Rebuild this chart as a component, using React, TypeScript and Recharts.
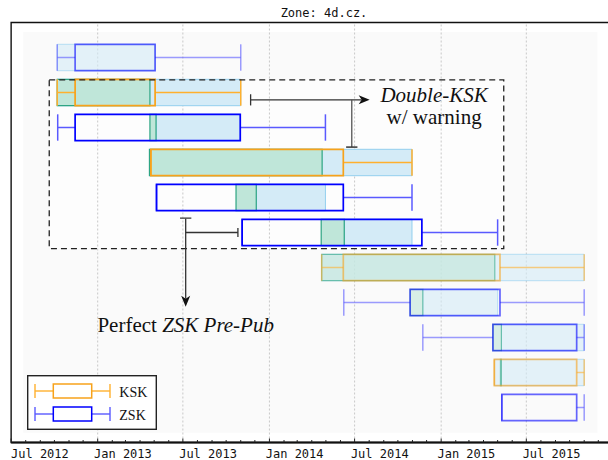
import React from 'react';
import {
  ComposedChart,
  XAxis,
  YAxis,
  Scatter,
  ReferenceArea,
  ReferenceLine,
  ReferenceDot,
  Legend,
} from 'recharts';

// one row per box, top to bottom
const ROW_KEYS = ['ZSK', 'KSK', 'ZSK', 'KSK', 'ZSK', 'ZSK', 'KSK', 'ZSK', 'ZSK', 'KSK', 'ZSK'];
const WHISKER_LOW = ['2012-10-07', '2012-10-07', '2012-10-08', '2013-04-24', '2013-05-06', '2013-11-04', '2014-04-22', '2014-06-08', '2014-11-23', '2015-04-24', '2015-05-10'];
const Q1 = ['2012-11-14', '2012-11-14', '2012-11-14', '2013-04-24', '2013-05-06', '2013-11-04', '2014-06-07', '2014-10-27', '2015-04-21', '2015-04-24', '2015-05-10'];
const Q3 = ['2013-05-03', '2013-05-03', '2013-10-31', '2014-06-07', '2014-06-07', '2014-11-21', '2015-05-06', '2015-05-06', '2015-10-16', '2015-10-16', '2015-10-16'];
const WHISKER_HIGH = ['2013-11-01', '2013-11-01', '2014-04-30', '2014-10-31', '2014-10-31', '2015-05-01', '2015-11-01', '2015-11-01', '2015-11-01', '2015-11-01', '2015-11-01'];
const BLUE_SPANS: ([string, string] | null)[] = [
  ['2012-10-07', '2013-05-03'],
  ['2012-10-07', '2013-11-01'],
  ['2013-05-05', '2013-10-31'],
  ['2013-04-21', '2014-10-31'],
  ['2013-12-04', '2014-04-30'],
  ['2014-06-09', '2014-10-31'],
  ['2014-04-22', '2015-11-01'],
  ['2014-11-23', '2015-05-01'],
  ['2015-05-09', '2015-11-01'],
  ['2015-04-24', '2015-11-01'],
  null,
];
const GREEN_SPANS: ([string, string] | null)[] = [
  null,
  ['2012-10-07', '2013-04-22'],
  ['2013-04-22', '2013-05-05'],
  ['2013-04-21', '2014-04-23'],
  ['2013-10-22', '2013-12-04'],
  ['2014-04-21', '2014-06-09'],
  ['2014-04-22', '2015-04-25'],
  ['2014-10-27', '2014-11-23'],
  ['2015-04-21', '2015-05-09'],
  ['2015-05-07', '2015-05-09'],
  null,
];

const MAJOR_TICKS = ['2012-07-01', '2013-01-01', '2013-07-01', '2014-01-01', '2014-07-01', '2015-01-01', '2015-07-01'];
const TICK_LABELS = ['Jul 2012', 'Jan 2013', 'Jul 2013', 'Jan 2014', 'Jul 2014', 'Jan 2015', 'Jul 2015'];

// highlighted region (dashed box) and the two notes
const FOCUS_X = ['2012-09-20', '2015-05-14'];
const FOCUS_Y = [1.64, 6.46];
const PANEL_X = ['2012-07-27', '2015-11-29'];
const PANEL_Y = [0.27, 11.72];
const KSK_NOTE = { from: '2013-11-22', to: '2014-08-02', y: 2.21, drop: '2014-06-25', dropTo: 3.56, text: '2014-12-17', textY: 2.27 };
const ZSK_NOTE = { x: '2013-07-07', top: 5.59, tip: 8.12, branchY: 6.0, branchTo: '2013-10-26', textY: 8.83 };

const day = (s: string) => Date.parse(s + 'T00:00:00Z');
const T0 = day('2012-07-01');
const T1 = day('2016-01-01');
const CAP_DAYS = 12 * 86400000;
const H = 0.377;

const monthTicks: number[] = [];
for (let y = 2012, m = 6; y < 2016; ) {
  monthTicks.push(Date.UTC(y, m, 1));
  m += 1;
  if (m === 12) {
    m = 0;
    y += 1;
  }
}
const majorVals = MAJOR_TICKS.map(day);

const rows = ROW_KEYS.map((key, i) => ({
  key,
  y: i + 1,
  lo: day(WHISKER_LOW[i]),
  q1: day(Q1[i]),
  q3: day(Q3[i]),
  hi: day(WHISKER_HIGH[i]),
  blue: BLUE_SPANS[i],
  green: GREEN_SPANS[i],
  op: i + 1 > FOCUS_Y[0] && i + 1 < FOCUS_Y[1] ? 1 : 0.6,
}));

const COLORS = {
  KSK: { box: '#f7a21b', whisker: '#ffb02e' },
  ZSK: { box: '#0000ff', whisker: '#5a5aff' },
};

const MONO = '"DejaVu Sans Mono", monospace';
const SERIF = '"Liberation Serif", "Times New Roman", serif';

function MonthTick(props: any) {
  const { x, y, payload } = props;
  const idx = majorVals.indexOf(payload.value);
  const major = idx >= 0;
  return (
    <g>
      <line x1={x} x2={x} y1={y} y2={y - (major ? 4 : 2.5)} stroke="#222" strokeWidth={1} />
      {major && (
        <text x={Math.max(x - 3.7, 11)} y={y + 15} fontFamily={MONO} fontSize={12} fill="#111">
          {TICK_LABELS[idx]}
        </text>
      )}
    </g>
  );
}

function arrowShape(p: any) {
  const { x1, y1, x2, y2 } = p;
  const a = Math.atan2(y2 - y1, x2 - x1);
  const c = Math.cos(a);
  const s = Math.sin(a);
  const L = 11;
  const W = 4.5;
  const N = 3;
  const bx = x2 - L * c;
  const by = y2 - L * s;
  const nx = x2 - (L - N) * c;
  const ny = y2 - (L - N) * s;
  const pts = [
    [x2, y2],
    [bx - W * s, by + W * c],
    [nx, ny],
    [bx + W * s, by - W * c],
  ]
    .map((q) => q.join(','))
    .join(' ');
  return (
    <g>
      <line x1={x1} y1={y1} x2={nx} y2={ny} stroke="#333" strokeWidth={1.3} />
      <polygon points={pts} fill="#111" />
    </g>
  );
}

function LegendRow({ k, cy }: { k: 'KSK' | 'ZSK'; cy: number }) {
  const c = COLORS[k];
  return (
    <g>
      <line x1={8} x2={26.3} y1={cy} y2={cy} stroke={c.whisker} strokeWidth={1.4} />
      <line x1={64.7} x2={83} y1={cy} y2={cy} stroke={c.whisker} strokeWidth={1.4} />
      <line x1={8} x2={8} y1={cy - 7} y2={cy + 7} stroke={c.whisker} strokeWidth={1.4} />
      <line x1={83} x2={83} y1={cy - 7} y2={cy + 7} stroke={c.whisker} strokeWidth={1.4} />
      <rect x={26.3} y={cy - 7} width={38.4} height={14} fill="none" stroke={c.box} strokeWidth={1.5} />
      <text x={92.3} y={cy + 5.5} fontFamily={SERIF} fontSize={14} fill="#111">
        {k}
      </text>
    </g>
  );
}

function legendContent() {
  return (
    <svg width={131} height={56} style={{ display: 'block' }}>
      <rect x={0.7} y={0.7} width={128.6} height={53.6} fill="#fff" stroke="#222" strokeWidth={1.4} />
      <LegendRow k="KSK" cy={16} />
      <LegendRow k="ZSK" cy={39} />
    </svg>
  );
}

export default function App() {
  return (
    <div style={{ position: 'absolute', left: 0, top: 0, width: 608, height: 460, overflow: 'hidden', background: '#fff' }}>
      <ComposedChart width={630} height={460} margin={{ top: 22.5, left: 11.13, right: 17.1, bottom: 0 }}>
        <XAxis
          type="number"
          dataKey="x"
          domain={[T0, T1]}
          allowDataOverflow
          ticks={monthTicks}
          interval={0}
          tickSize={0}
          tickMargin={0}
          tickLine={false}
          tick={(p: any) => <MonthTick {...p} />}
          height={17.5}
          axisLine={{ stroke: '#111', strokeWidth: 2 }}
        />
        <YAxis type="number" dataKey="y" domain={[0, 12]} allowDataOverflow reversed hide />
        <Scatter data={[{ x: T0, y: 0 }]} legendType="none" shape={() => <g />} isAnimationActive={false} />

        <ReferenceArea x1={day(PANEL_X[0])} x2={day(PANEL_X[1])} y1={PANEL_Y[0]} y2={PANEL_Y[1]} fill="#f5f5f5" stroke="none" zIndex={1} />
        <ReferenceArea x1={day(FOCUS_X[0])} x2={day(FOCUS_X[1])} y1={FOCUS_Y[0]} y2={FOCUS_Y[1]} fill="#ffffff" stroke="none" zIndex={2} />

        {majorVals.slice(1).map((v) => (
          <ReferenceLine key={'g' + v} x={v} stroke="#c8c8c8" strokeWidth={1} strokeDasharray="2 2" zIndex={3} />
        ))}

        {rows.map((r) =>
          r.blue ? (
            <ReferenceArea
              key={'b' + r.y}
              x1={day(r.blue[0])}
              x2={day(r.blue[1])}
              y1={r.y - H}
              y2={r.y + H}
              fill="#d4ebf7"
              fillOpacity={r.op}
              stroke="#93cfee"
              strokeOpacity={r.op}
              strokeWidth={1}
              zIndex={4}
            />
          ) : null
        )}
        {rows.map((r) =>
          r.green ? (
            <ReferenceArea
              key={'gr' + r.y}
              x1={day(r.green[0])}
              x2={day(r.green[1])}
              y1={r.y - H}
              y2={r.y + H}
              fill="#bfe6d9"
              fillOpacity={r.op}
              stroke="#2ea583"
              strokeOpacity={r.op}
              strokeWidth={1.2}
              zIndex={5}
            />
          ) : null
        )}

        {rows.map((r) => {
          const c = COLORS[r.key as 'KSK' | 'ZSK'];
          const common = { stroke: c.whisker, strokeOpacity: r.op, strokeWidth: 1.5, zIndex: 6 };
          return (
            <React.Fragment key={'w' + r.y}>
              {r.lo < r.q1 && <ReferenceLine segment={[{ x: r.lo, y: r.y }, { x: r.q1, y: r.y }]} {...common} />}
              {r.q3 < r.hi && <ReferenceLine segment={[{ x: r.q3, y: r.y }, { x: r.hi, y: r.y }]} {...common} />}
              <ReferenceLine segment={[{ x: r.lo, y: r.y - H }, { x: r.lo, y: r.y + H }]} {...common} />
              <ReferenceLine segment={[{ x: r.hi, y: r.y - H }, { x: r.hi, y: r.y + H }]} {...common} />
            </React.Fragment>
          );
        })}
        {rows.map((r) => (
          <ReferenceArea
            key={'box' + r.y}
            x1={r.q1}
            x2={r.q3}
            y1={r.y - H}
            y2={r.y + H}
            fill="none"
            stroke={COLORS[r.key as 'KSK' | 'ZSK'].box}
            strokeOpacity={r.op}
            strokeWidth={1.7}
            zIndex={7}
          />
        ))}

        <ReferenceArea
          x1={day(FOCUS_X[0])}
          x2={day(FOCUS_X[1])}
          y1={FOCUS_Y[0]}
          y2={FOCUS_Y[1]}
          fill="none"
          stroke="#222"
          strokeWidth={1.3}
          strokeDasharray="6 4"
          zIndex={8}
        />

        {/* Double-KSK note */}
        <ReferenceLine segment={[{ x: day(KSK_NOTE.from), y: KSK_NOTE.y }, { x: day(KSK_NOTE.to), y: KSK_NOTE.y }]} shape={arrowShape} zIndex={9} />
        <ReferenceLine segment={[{ x: day(KSK_NOTE.from), y: KSK_NOTE.y - 0.16 }, { x: day(KSK_NOTE.from), y: KSK_NOTE.y + 0.16 }]} stroke="#333" strokeWidth={1.3} zIndex={9} />
        <ReferenceLine segment={[{ x: day(KSK_NOTE.drop), y: KSK_NOTE.y }, { x: day(KSK_NOTE.drop), y: KSK_NOTE.dropTo }]} stroke="#555" strokeWidth={1.3} zIndex={9} />
        <ReferenceLine segment={[{ x: day(KSK_NOTE.drop) - CAP_DAYS, y: KSK_NOTE.dropTo }, { x: day(KSK_NOTE.drop) + CAP_DAYS, y: KSK_NOTE.dropTo }]} stroke="#333" strokeWidth={1.5} zIndex={9} />

        {/* Perfect ZSK Pre-Pub note */}
        <ReferenceLine segment={[{ x: day(ZSK_NOTE.x), y: ZSK_NOTE.top }, { x: day(ZSK_NOTE.x), y: ZSK_NOTE.tip }]} shape={arrowShape} zIndex={9} />
        <ReferenceLine segment={[{ x: day(ZSK_NOTE.x) - CAP_DAYS, y: ZSK_NOTE.top }, { x: day(ZSK_NOTE.x) + CAP_DAYS, y: ZSK_NOTE.top }]} stroke="#555" strokeWidth={1.5} zIndex={9} />
        <ReferenceLine segment={[{ x: day(ZSK_NOTE.x), y: ZSK_NOTE.branchY }, { x: day(ZSK_NOTE.branchTo), y: ZSK_NOTE.branchY }]} stroke="#333" strokeWidth={1.3} zIndex={9} />
        <ReferenceLine segment={[{ x: day(ZSK_NOTE.branchTo), y: ZSK_NOTE.branchY - 0.13 }, { x: day(ZSK_NOTE.branchTo), y: ZSK_NOTE.branchY + 0.13 }]} stroke="#333" strokeWidth={1.3} zIndex={9} />

        <ReferenceDot
          x={day(KSK_NOTE.text)}
          y={KSK_NOTE.textY}
          r={0}
          zIndex={10}
          shape={(p: any) => (
            <text x={p.cx} y={p.cy} textAnchor="middle" fontFamily={SERIF} fontSize={21} fill="#111">
              <tspan x={p.cx} fontStyle="italic">Double-KSK</tspan>
              <tspan x={p.cx} dy={22}>w/ warning</tspan>
            </text>
          )}
        />
        <ReferenceDot
          x={day(ZSK_NOTE.x)}
          y={ZSK_NOTE.textY}
          r={0}
          zIndex={10}
          shape={(p: any) => (
            <text x={p.cx} y={p.cy} textAnchor="middle" fontFamily={SERIF} fontSize={21} fill="#111">
              <tspan>{'Perfect\u00a0'}</tspan>
              <tspan fontStyle="italic">ZSK Pre-Pub</tspan>
            </text>
          )}
        />

        <ReferenceArea x1={T0} x2={T1} y1={0} y2={12} fill="none" stroke="#111" strokeWidth={1.4} zIndex={11} />

        <Legend
          layout="horizontal"
          verticalAlign="middle"
          align="center"
          content={legendContent}
          wrapperStyle={{ position: 'absolute', left: 27, top: 375, width: 131, height: 56, margin: 0, padding: 0 }}
        />
      </ComposedChart>
      <div
        style={{
          position: 'absolute',
          left: 224,
          top: 6.4,
          width: 200,
          textAlign: 'center',
          fontFamily: MONO,
          fontSize: 12,
          lineHeight: '14px',
          color: '#111',
        }}
      >
        Zone: 4d.cz.
      </div>
    </div>
  );
}
